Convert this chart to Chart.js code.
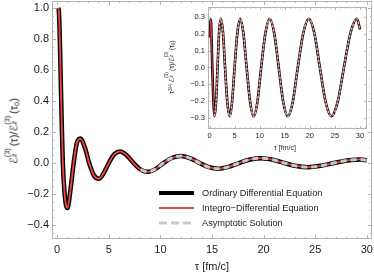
<!DOCTYPE html>
<html>
<head>
<meta charset="utf-8">
<script src="https://cdn.jsdelivr.net/npm/chart.js@4.4.1/dist/chart.umd.min.js"></script>
<style>
  body { margin: 0; background: #fff; }
  #wrap { position: relative; width: 374px; height: 273px; overflow: hidden; font-family: "Liberation Sans", "DejaVu Sans", sans-serif; color: #222; }
  canvas { position: absolute; }
  #mainChart { left: 0; top: 0; }
  #insetChart { left: 180px; top: 0; }
  .lbl { position: absolute; white-space: nowrap; transform: translate(-50%, -50%); line-height: 1; }
  .rot { transform: translate(-50%, -50%) rotate(-90deg); }
  .ss { display: inline-block; position: relative; width: 1.0em; height: 1em; vertical-align: baseline; }
  .ss .p { position: absolute; left: 0.02em; top: -0.38em; font-size: 0.66em; }
  .ss .b { position: absolute; left: 0.02em; top: 0.6em; font-size: 0.66em; font-style: italic; }
  .sb { font-size: 0.66em; position: relative; top: 0.3em; }
  .e { font-family: "DejaVu Sans", sans-serif; font-style: italic; font-weight: normal; }
</style>
</head>
<body>
<div id="wrap">
  <canvas id="mainChart" width="374" height="273"></canvas>
  <canvas id="insetChart" width="194" height="152"></canvas>
  <div class="lbl rot" style="left:13px; top:131px; font-size:11px;"><span class="e">ℰ</span><span class="ss"><span class="p">(3)</span><span class="b">z</span></span>(τ)/<span class="e">ℰ</span><span class="ss"><span class="p">(3)</span><span class="b">z</span></span>(τ<span class="sb">0</span>)</div>
  <div class="lbl" style="left:212px; top:266px; font-size:11px;">τ [fm/c]</div>
  <div class="lbl rot" style="left:171px; top:67px; font-size:7px;">τ<span style="font-size:0.7em; position:relative; top:-0.5em">3/4</span> <span class="e">ℰ</span><span class="ss"><span class="p">(3)</span><span class="b">z</span></span>(τ)/<span class="e">ℰ</span><span class="ss"><span class="p">(3)</span><span class="b">z</span></span>(τ<span class="sb">0</span>)</div>
  <div class="lbl" style="left:285px; top:147px; font-size:7px;">τ [fm/c]</div>
</div>
<script>
// values
const tau = [0.1, 0.15, 0.2, 0.25, 0.3, 0.35, 0.45, 0.55, 0.7, 0.85,
  1.0, 1.3, 1.6, 1.9, 2.25, 2.7, 3.1, 3.55, 4.05, 4.5,
  5.0, 5.55, 6.1, 6.75, 7.4, 8.1, 8.8, 9.55, 10.3, 11.15,
  12.0, 12.9, 13.8, 14.7, 15.6, 16.6, 17.6, 18.7, 19.8, 20.9,
  22.0, 23.15, 24.3, 25.55, 26.8, 28.1, 29.4, 30.0];

// main panel: E(tau)/E(tau0)
const ratio = [1.0, 0.99, 0.93, 0.82, 0.68, 0.53, 0.24, 0.0, -0.18, -0.27,
  -0.29, -0.168, 0.0, 0.127, 0.158, 0.097, 0.0, -0.079, -0.102, -0.066,
  0.0, 0.057, 0.075, 0.049, 0.0, -0.043, -0.057, -0.038, 0.0, 0.034,
  0.045, 0.030, 0.0, -0.027, -0.037, -0.025, 0.0, 0.023, 0.031, 0.021,
  0.0, -0.019, -0.0265, -0.018, 0.0, 0.0168, 0.023, 0.0177];

// inset: tau^(3/4) * E(tau)/E(tau0)
const scaled = [0.178, 0.24, 0.27, 0.285, 0.275, 0.24, 0.13, 0.0, -0.14, -0.24,
  -0.29, -0.205, 0.0, 0.205, 0.29, 0.205, 0.0, -0.205, -0.29, -0.205,
  0.0, 0.205, 0.29, 0.205, 0.0, -0.205, -0.29, -0.205, 0.0, 0.205,
  0.29, 0.205, 0.0, -0.205, -0.29, -0.205, 0.0, 0.205, 0.29, 0.205,
  0.0, -0.205, -0.29, -0.205, 0.0, 0.205, 0.29, 0.227];

// asymptotic curve is only drawn from these times on
const asymStartMain = 8.1;
const asymStartInset = 1.0;

const seriesNames = ['Ordinary Differential Equation', 'Integro\u2212Differential Equation', 'Asymptotic Solution'];

const mainXTicks = [0, 5, 10, 15, 20, 25, 30];
const mainYTicks = [-0.4, -0.2, 0.0, 0.2, 0.4, 0.6, 0.8, 1.0];
const insetXTicks = [0, 5, 10, 15, 20, 25, 30];
const insetYTicks = [-0.3, -0.2, -0.1, 0.0, 0.1, 0.2, 0.3];

const RED = '#ee4646';
const GRAY = '#c8c8c8';
const FRAME = '#b4b4b4';

function fmt(v, digits) {
  const s = Math.abs(v).toFixed(digits);
  return v < -1e-9 ? '\u2212' + s : s;
}

function points(ys, from) {
  return tau.map((t, i) => ({ x: t, y: ys[i] })).filter(p => p.x >= (from || 0));
}

// frame with inward ticks on all four sides (Mathematica style)
const frameTicks = {
  id: 'frameTicks',
  beforeDatasetsDraw(chart, args, o) {
    const { ctx, chartArea: a, scales: { x, y } } = chart;
    ctx.save();
    if (o.fill) {
      ctx.fillStyle = '#fff';
      ctx.fillRect(a.left, a.top, a.right - a.left, a.bottom - a.top);
    }
    ctx.strokeStyle = FRAME;
    ctx.lineWidth = 1;
    ctx.strokeRect(Math.round(a.left) + 0.5, Math.round(a.top) + 0.5,
      Math.round(a.right - a.left) - 1, Math.round(a.bottom - a.top) - 1);
    ctx.beginPath();
    for (let v = Math.ceil(x.min / o.xMinor) * o.xMinor; v <= x.max; v += o.xMinor) {
      const px = Math.round(x.getPixelForValue(v)) + 0.5;
      const major = Math.abs(v / o.xMajor - Math.round(v / o.xMajor)) < 1e-6;
      const len = major ? o.major : o.minor;
      ctx.moveTo(px, a.bottom); ctx.lineTo(px, a.bottom - len);
      ctx.moveTo(px, a.top); ctx.lineTo(px, a.top + len);
    }
    for (let v = Math.ceil(y.min / o.yMinor) * o.yMinor; v <= y.max; v += o.yMinor) {
      const py = Math.round(y.getPixelForValue(v)) + 0.5;
      const major = Math.abs(v / o.yMajor - Math.round(v / o.yMajor)) < 1e-6;
      const len = major ? o.major : o.minor;
      ctx.moveTo(a.left, py); ctx.lineTo(a.left + len, py);
      ctx.moveTo(a.right, py); ctx.lineTo(a.right - len, py);
    }
    ctx.stroke();
    ctx.restore();
  }
};

// legend drawn inside the main plot
const insideLegend = {
  id: 'insideLegend',
  afterDraw(chart) {
    const ctx = chart.ctx;
    const rows = [
      { y: 193, color: '#000', width: 4, dash: [] },
      { y: 208, color: RED, width: 2, dash: [] },
      { y: 223, color: GRAY, width: 3, dash: [8, 4] }
    ];
    ctx.save();
    ctx.font = '9.2px "Liberation Sans", Arial, sans-serif';
    ctx.textBaseline = 'middle';
    rows.forEach((r, i) => {
      ctx.beginPath();
      ctx.strokeStyle = r.color;
      ctx.lineWidth = r.width;
      ctx.setLineDash(r.dash);
      ctx.moveTo(159, r.y);
      ctx.lineTo(194, r.y);
      ctx.stroke();
      ctx.setLineDash([]);
      ctx.fillStyle = '#222';
      ctx.fillText(seriesNames[i], 202, r.y + 0.5);
    });
    ctx.restore();
  }
};

function axes(xr, yr, xTicks, yTicks, yDigits, yWidth, xHeight, fontSize, xPad, yPad) {
  const font = { family: '"Liberation Sans", Arial, sans-serif', size: fontSize };
  return {
    x: {
      type: 'linear', min: xr[0], max: xr[1],
      grid: { display: false, drawTicks: false },
      border: { display: false },
      ticks: { font, color: '#222', padding: xPad, maxRotation: 0, callback: v => String(v) },
      afterBuildTicks: s => { s.ticks = xTicks.map(v => ({ value: v })); },
      afterFit: s => { s.height = xHeight; s.paddingLeft = 0; s.paddingRight = 0; }
    },
    y: {
      type: 'linear', min: yr[0], max: yr[1],
      grid: { display: false, drawTicks: false },
      border: { display: false },
      ticks: { font, color: '#222', padding: yPad, callback: v => fmt(v, yDigits) },
      afterBuildTicks: s => { s.ticks = yTicks.map(v => ({ value: v })); },
      afterFit: s => { s.width = yWidth; s.paddingTop = 0; s.paddingBottom = 0; }
    }
  };
}

function datasets(ys, asymFrom, wBlack, wRed, wGray, dash) {
  const common = { pointRadius: 0, fill: false, cubicInterpolationMode: 'monotone', borderCapStyle: 'butt' };
  return [
    { ...common, label: seriesNames[2], data: points(ys, asymFrom), borderColor: GRAY, borderWidth: wGray, borderDash: dash, order: 0 },
    { ...common, label: seriesNames[1], data: points(ys), borderColor: RED, borderWidth: wRed, order: 1 },
    { ...common, label: seriesNames[0], data: points(ys), borderColor: '#000', borderWidth: wBlack, order: 2 }
  ];
}

Chart.defaults.animation = false;

new Chart(document.getElementById('mainChart'), {
  type: 'line',
  data: { datasets: datasets(ratio, asymStartMain, 4.5, 1.8, 3, [6, 4]) },
  options: {
    responsive: false,
    layout: { padding: { top: 1, right: 2, left: 0, bottom: 0 } },
    scales: axes([-0.5, 30.5], [-0.49, 1.045], mainXTicks, mainYTicks, 1, 52, 34, 11, 4, 3),
    plugins: {
      legend: { display: false }, tooltip: { enabled: false },
      frameTicks: { xMajor: 5, xMinor: 1, yMajor: 0.2, yMinor: 0.05, major: 4, minor: 2 }
    }
  },
  plugins: [frameTicks, insideLegend]
});

new Chart(document.getElementById('insetChart'), {
  type: 'line',
  data: { datasets: datasets(scaled, asymStartInset, 2.6, 1, 1.4, [2, 2]) },
  options: {
    responsive: false,
    layout: { padding: { top: 7, right: 7, left: 0, bottom: 0 } },
    scales: axes([-0.3, 31.4], [-0.366, 0.36], insetXTicks, insetYTicks, 1, 28, 23, 7.5, 2, 3),
    plugins: {
      legend: { display: false }, tooltip: { enabled: false },
      frameTicks: { fill: true, xMajor: 5, xMinor: 1, yMajor: 0.1, yMinor: 0.05, major: 3, minor: 1.5 }
    }
  },
  plugins: [frameTicks]
});
</script>
</body>
</html>
